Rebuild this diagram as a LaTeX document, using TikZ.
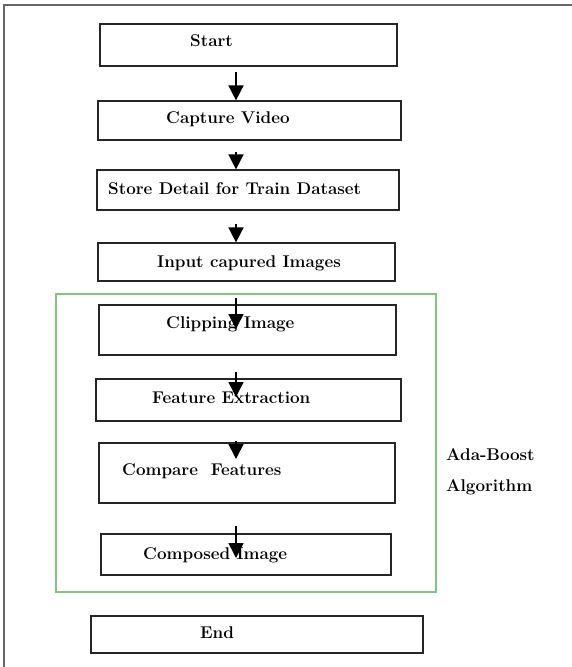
\documentclass[tikz,border=0pt]{standalone}
\usetikzlibrary{arrows.meta}
\begin{document}
\begin{tikzpicture}[x=1pt,y=-1pt,
  box/.style={draw=black!85,line width=1.2pt,rectangle,inner sep=0pt},
  txt/.style={font=\fontsize{17}{20}\selectfont\bfseries,inner sep=0pt,anchor=west},
  arr/.style={draw=black,line width=1.6pt,-{Triangle[width=15pt,length=15pt]}},
  grp/.style={draw=green!55!black!50!white,line width=1.2pt}]
\useasboundingbox (0,0) rectangle (572,667);
\draw[black!60,line width=2pt] (4,667) -- (4,5) -- (572,5);
% boxes
\node[box,minimum width=297pt,minimum height=42pt] (start) at (248.5,45) {};
\node[box,minimum width=303pt,minimum height=39pt] (cap) at (249.5,120.5) {};
\node[box,minimum width=302pt,minimum height=40pt] (store) at (248,190) {};
\node[box,minimum width=297pt,minimum height=38pt] (inp) at (246.5,262) {};
\node[grp,rectangle,inner sep=0pt,minimum width=380pt,minimum height=298pt] (ada) at (246,443) {};
\node[box,minimum width=297pt,minimum height=50pt] (clip) at (247.5,330) {};
\node[box,minimum width=305pt,minimum height=42pt] (feat) at (248.5,400) {};
\node[box,minimum width=296pt,minimum height=60pt] (comp) at (247,473) {};
\node[box,minimum width=290pt,minimum height=41pt] (cimg) at (246,554.5) {};
\node[box,minimum width=332pt,minimum height=37pt] (end) at (257,634.5) {};
% texts
\node[txt] (t1) at (190,41) {Start};
\node[txt] (t2) at (166,119) {Capture Video};
\node[txt] (t3) at (108,189) {Store Detail for Train Dataset};
\node[txt] (t4) at (157,263) {Input capured Images};
\node[txt] (t5) at (166,324) {Clipping Image};
\node[txt] (t6) at (152,398) {Feature Extraction};
\node[txt] (t7) at (122,471) {Compare\ \ Features};
\node[txt] (t8) at (143,555) {Composed Image};
\node[txt] (t9) at (200,633) {End};
\node[txt] (l1) at (446,455) {Ada-Boost};
\node[txt] (l2) at (446,487) {Algorithm};
% arrows
\coordinate (a1) at (236,72);
\coordinate (a2) at (236,152);
\coordinate (a3) at (236,224);
\coordinate (a4) at (236,298);
\coordinate (a5) at (236,372);
\coordinate (a6) at (236,441);
\coordinate (a7) at (236,526);
\draw[arr] (a1) -- (a1 |- cap.north);
\draw[arr] (a2) -- (a2 |- store.north);
\draw[arr] (a3) -- (a3 |- inp.north);
\draw[arr] (a4) -- ++(0,31);
\draw[arr] (a5) -- ++(0,25);
\draw[arr] (a6) -- ++(0,18);
\draw[arr] (a7) -- ++(0,32);
\end{tikzpicture}
\end{document}
